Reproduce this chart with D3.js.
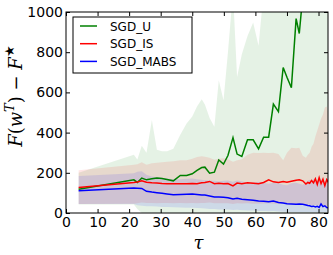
<!DOCTYPE html>
<html>
<head>
<meta charset="utf-8">
<script src="https://cdn.jsdelivr.net/npm/d3@7"></script>
<style>
body { margin: 0; background: #fff; }
svg { display: block; }
</style>
</head>
<body>
<div id="chart"></div>
<script>
// tau values (shared by all three series)
var tau = [4, 21.5, 22.6, 24, 25.5, 27.2, 28.8, 30.4, 32, 34, 36.2, 38.2, 40, 41.5, 43, 44, 45.5, 47, 48.4, 49.9,
           51.3, 52.9, 54.2, 55.7, 57.5, 59.3, 61, 62.6, 64.2, 65.7, 67.3, 68.8, 70, 71.4, 72.9, 73.9, 75, 76, 76.6, 77.2,
           77.8, 78.4, 79, 79.6, 80.2, 80.8, 81.4, 82, 82.6, 83.2];

var meanU = [118, 165, 152, 174, 165, 170, 174, 172, 167, 160, 187, 187, 195, 212, 226, 228, 198, 203, 264, 243,
             286, 375, 293, 281, 364, 364, 319, 377, 377, 542, 504, 724, 675, 623, 967, 893, 1080, 1150, 1180, 1210,
             1240, 1260, 1290, 1310, 1330, 1350, 1380, 1400, 1420, 1450];
var highU = [200, 290, 266, 335, 300, 463, 315, 307, 307, 320, 389, 445, 480, 530, 566, 540, 473, 429, 660, 561,
             800, 1100, 677, 790, 880, 948, 832, 1100, 1200, 1300, 1300, 1400, 1400, 1400, 1500, 1500, 1600, 1600, 1600, 1600,
             1700, 1700, 1700, 1700, 1700, 1800, 1800, 1800, 1800, 1800];
var lowU  = [42, 42, 20, 0, -20, -120, -60, -60, -70, -80, -60, -70, -80, -100, -110, -90, -80, -40, -130, -80,
             -230, -350, -90, -230, -150, -220, -200, -350, -450, -250, -300, -100, -150, -200, 0, -100, 0, 0, 0, 0,
             0, 0, 0, 0, 0, 0, 0, 0, 0, 0];

var meanIS = [127, 152, 154, 160, 153, 150, 149, 147, 146, 145, 146, 145, 147, 146, 150, 152, 157, 146, 148, 145,
              147, 135, 149, 146, 150, 148, 146, 152, 165, 155, 152, 157, 153, 158, 163, 165, 160, 144, 152, 148,
              162, 150, 170, 142, 176, 146, 168, 136, 166, 150];
var highIS = [213, 240, 242, 252, 240, 248, 250, 252, 255, 258, 262, 262, 270, 278, 282, 280, 275, 265, 270, 272,
              268, 255, 262, 268, 290, 300, 298, 300, 298, 300, 293, 262, 300, 325, 322, 325, 285, 275, 290, 300,
              330, 345, 380, 410, 440, 470, 490, 525, 530, 495];
var lowIS  = [45, 46, 48, 52, 50, 50, 49, 50, 50, 49, 50, 49, 50, 49, 50, 50, 52, 48, 49, 48,
              48, 45, 48, 47, 48, 46, 46, 47, 48, 46, 45, 46, 44, 45, 44, 44, 42, 40, 41, 40,
              40, 40, 39, 39, 38, 38, 37, 37, 36, 36];

var meanMABS = [111, 124, 123, 122, 108, 104, 101, 98, 95, 91, 92, 93, 94, 92, 90, 89, 85, 80, 79, 78,
                76, 70, 73, 68, 66, 64, 60, 58, 56, 60, 52, 50, 46, 45, 44, 45, 43, 40, 37, 36,
                32, 34, 30, 33, 28, 45, 32, 36, 27, 25];
var highMABS = [184, 198, 205, 208, 190, 182, 178, 175, 172, 168, 168, 170, 172, 168, 165, 163, 162, 160, 158, 160,
                162, 155, 162, 158, 150, 152, 155, 150, 145, 150, 148, 140, 138, 148, 150, 145, 140, 150, 160, 165,
                160, 170, 155, 160, 170, 165, 150, 160, 150, 145];
var lowMABS  = [45, 45, 38, 36, 33, 33, 32, 30, 30, 28, 27, 26, 26, 25, 24, 22, 20, 20, 18, 18,
                17, 15, 16, 14, 13, 12, 10, 10, 9, 10, 8, 6, 5, 5, 4, 4, 4, 4, 4, 4,
                4, 4, 4, 4, 4, 4, 4, 4, 4, 4];

var seriesNames = ["SGD_U", "SGD_IS", "SGD_MABS"];
var seriesColors = ["#008000", "#ff0000", "#0000ff"];
var xTicks = [0, 10, 20, 30, 40, 50, 60, 70, 80];
var yTicks = [0, 200, 400, 600, 800, 1000];

var series = [
    {name: seriesNames[0], color: seriesColors[0], mean: meanU, low: lowU, high: highU},
    {name: seriesNames[1], color: seriesColors[1], mean: meanIS, low: lowIS, high: highIS},
    {name: seriesNames[2], color: seriesColors[2], mean: meanMABS, low: lowMABS, high: highMABS}
];

//margins
var margin = {top: 12, bottom: 42, left: 66, right: 5};
var totalW = 333, totalH = 255;
var width = totalW - margin.left - margin.right;
var height = totalH - margin.top - margin.bottom;

var xScale = d3.scaleLinear().domain([0, 83]).range([0, width]);
var yScale = d3.scaleLinear().domain([0, 1000]).range([height, 0]);

var svg = d3.select("#chart")
    .append("svg")
    .attr("width", totalW)
    .attr("height", totalH)
    .append("g")
    .attr("transform", "translate(" + margin.left + "," + margin.top + ")");

svg.append("clipPath").attr("id", "clip")
    .append("rect").attr("width", width).attr("height", height);

var plot = svg.append("g").attr("clip-path", "url(#clip)");

//bands
var area = function(s) {
    return d3.area()
        .x(function(d, i) { return xScale(tau[i]); })
        .y0(function(d, i) { return yScale(s.low[i]); })
        .y1(function(d, i) { return yScale(s.high[i]); });
};
series.forEach(function(s) {
    plot.append("path")
        .attr("d", area(s)(tau))
        .attr("fill", s.color)
        .attr("fill-opacity", 0.1);
});

//lines
series.forEach(function(s) {
    var line = d3.line()
        .x(function(d, i) { return xScale(tau[i]); })
        .y(function(d, i) { return yScale(s.mean[i]); });
    plot.append("path")
        .attr("d", line(tau))
        .attr("fill", "none")
        .attr("stroke", s.color)
        .attr("stroke-width", 1.5);
});

var font = "'DejaVu Sans', sans-serif";

//axes with inward ticks
var styleAxis = function(g) {
    g.select(".domain").remove();
    g.selectAll("line").attr("stroke", "#000");
    g.selectAll("text").attr("font-family", font).attr("font-size", 14).attr("fill", "#000");
};
svg.append("g")
    .attr("transform", "translate(0," + height + ")")
    .call(d3.axisBottom(xScale).tickValues(xTicks).tickSize(-4).tickPadding(4).tickFormat(d3.format("d")))
    .call(styleAxis);
svg.append("g")
    .call(d3.axisTop(xScale).tickValues(xTicks).tickSize(-4).tickFormat(""))
    .call(styleAxis);
svg.append("g")
    .call(d3.axisLeft(yScale).tickValues(yTicks).tickSize(-4).tickPadding(3).tickFormat(d3.format("d")))
    .call(styleAxis);
svg.append("g")
    .attr("transform", "translate(" + width + ",0)")
    .call(d3.axisRight(yScale).tickValues(yTicks).tickSize(-4).tickFormat(""))
    .call(styleAxis);

svg.append("rect")
    .attr("width", width).attr("height", height)
    .attr("fill", "none").attr("stroke", "#000").attr("stroke-width", 1);

//axis labels
svg.append("text")
    .attr("x", xScale(42))
    .attr("y", height + 36)
    .attr("text-anchor", "middle")
    .attr("font-family", "'DejaVu Serif', serif")
    .attr("font-style", "italic")
    .attr("font-size", 18)
    .text("τ");

var ylab = svg.append("text")
    .attr("transform", "translate(" + (-44) + "," + 84 + ") rotate(-90)")
    .attr("text-anchor", "middle")
    .attr("font-family", "'DejaVu Serif', serif")
    .attr("font-size", 18);
ylab.append("tspan").attr("font-style", "italic").text("F");
ylab.append("tspan").text("(");
ylab.append("tspan").attr("font-style", "italic").text("w");
ylab.append("tspan").attr("font-style", "italic").attr("font-size", 13).attr("dy", -8).text("T");
ylab.append("tspan").attr("dy", 8).text(") \u2212 ");
ylab.append("tspan").attr("font-style", "italic").text("F");
ylab.append("tspan").attr("font-size", 13).attr("dy", -8).text("\u2605");

//legend
var legend = svg.append("g").attr("transform", "translate(7,5)");
legend.append("rect")
    .attr("width", 119).attr("height", 56)
    .attr("fill", "#fff").attr("stroke", "#000").attr("stroke-width", 1);
series.forEach(function(s, i) {
    var yy = 9 + i * 17.7;
    legend.append("line")
        .attr("x1", 7).attr("x2", 24)
        .attr("y1", yy).attr("y2", yy)
        .attr("stroke", s.color).attr("stroke-width", 1.5);
    legend.append("text")
        .attr("x", 37).attr("y", yy + 4.5)
        .attr("font-family", font).attr("font-size", 12)
        .text(s.name);
});
</script>
</body>
</html>
